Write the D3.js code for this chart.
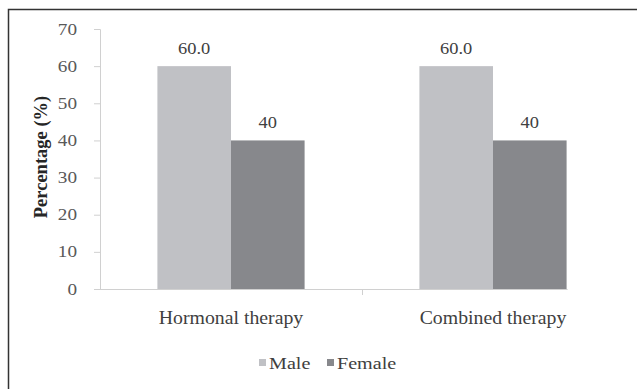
<!DOCTYPE html>
<html lang="en">
    <head>
        <meta charset="utf-8">
        <title>Percentage by therapy and sex</title>
        <script src="https://d3js.org/d3.v7.min.js"></script>
        <style type="text/css">
          body { margin: 0; background: #fff; }
          svg { width: 637px; height: 389px; display: block; }
          text { font-family: "Liberation Serif", "Times New Roman", serif; fill: #404040; }
          .tick text { fill: #595959; }
          .ytitle { font-weight: bold; fill: #262626; }
        </style>
    </head>
    <body>
        <svg></svg>
        <script type="text/javascript">

        // values
        const categories = ["Hormonal therapy", "Combined therapy"];
        const seriesNames = ["Male", "Female"];
        const maleValues = [60.0, 60.0];
        const femaleValues = [40, 40];
        const valueLabels = [["60.0", "40"], ["60.0", "40"]];
        const yTicks = [0, 10, 20, 30, 40, 50, 60, 70];

        const colors = {Male: "#c0c1c5", Female: "#87888c"};
        const stretch = 1.18; // the lettering in the picture is a bit wide

        const svg = d3.select("svg");

        // outer frame (only top and left visible)
        svg.append("rect")
           .attr("x", 8.5).attr("y", 9.5)
           .attr("width", 700).attr("height", 500)
           .attr("fill", "none")
           .attr("stroke", "#333").attr("stroke-width", 1.5);

        const plotLeft = 100, plotRight = 624, plotTop = 29, plotBottom = 289;

        const y = d3.scaleLinear().domain([0, 70]).range([plotBottom, plotTop]);
        const x = d3.scaleBand().domain(categories).range([plotLeft, plotRight]).padding(0);
        const xSub = d3.scaleBand().domain(seriesNames).range([0, x.bandwidth()])
                       .paddingInner(0).paddingOuter(0.78);

        // y axis
        const yAxis = svg.append("g")
           .attr("transform", "translate(" + plotLeft + ",0)")
           .call(d3.axisLeft(y).tickValues(yTicks).tickSize(6).tickPadding(17));
        yAxis.select(".domain").attr("stroke", "#d0d0d0");
        yAxis.selectAll(".tick line").attr("stroke", "#d0d0d0");
        yAxis.selectAll(".tick text")
             .attr("font-size", 16)
             .attr("text-anchor", "end")
             .attr("transform", function() {
                const tx = +d3.select(this).attr("x");
                d3.select(this).attr("x", 0);
                return "translate(" + tx + ",0) scale(1.2,1)";
             });

        const data = categories.map((c, i) => ({
            cat: c,
            vals: [
              {s: "Male", v: maleValues[i], label: valueLabels[i][0]},
              {s: "Female", v: femaleValues[i], label: valueLabels[i][1]}
            ]
        }));

        const groups = svg.selectAll("g.cat")
           .data(data)
           .enter()
           .append("g")
           .attr("class", "cat")
           .attr("transform", d => "translate(" + x(d.cat) + ",0)");

        groups.selectAll("rect")
           .data(d => d.vals)
           .enter()
           .append("rect")
           .attr("x", d => xSub(d.s))
           .attr("y", d => y(d.v))
           .attr("width", xSub.bandwidth())
           .attr("height", d => y(0) - y(d.v))
           .attr("fill", d => colors[d.s]);

        groups.selectAll("text.val")
           .data(d => d.vals)
           .enter()
           .append("text")
           .attr("class", "val")
           .attr("text-anchor", "middle")
           .attr("font-size", 16)
           .attr("transform", d => "translate(" + (xSub(d.s) + xSub.bandwidth() / 2) + "," + (y(d.v) - 12.5) + ") scale(1.15,1)")
           .text(d => d.label);

        // x axis: line from the y axis to the end of the last bar, tick between categories
        const lastEnd = x(categories[categories.length - 1]) + xSub(seriesNames[1]) + xSub.bandwidth();
        svg.append("line")
           .attr("x1", plotLeft - 6).attr("x2", lastEnd + 1)
           .attr("y1", y(0) + 0.5).attr("y2", y(0) + 0.5)
           .attr("stroke", "#d0d0d0");
        svg.append("line")
           .attr("x1", x(categories[1]) + 0.5).attr("x2", x(categories[1]) + 0.5)
           .attr("y1", y(0)).attr("y2", y(0) + 6)
           .attr("stroke", "#d0d0d0");

        svg.selectAll("text.catlabel")
           .data(categories)
           .enter()
           .append("text")
           .attr("class", "catlabel")
           .attr("text-anchor", "middle")
           .attr("font-size", 18.5)
           .attr("transform", d => "translate(" + (x(d) + x.bandwidth() / 2) + "," + (y(0) + 35) + ") scale(1.07,1)")
           .text(d => d);

        // y title
        svg.append("text")
           .attr("class", "ytitle")
           .attr("text-anchor", "middle")
           .attr("font-size", 18.5)
           .attr("transform", "translate(47,157) rotate(-90)")
           .text("Percentage (%)");

        // legend
        const legendX = [259, 327];
        const legend = svg.selectAll("g.legend")
           .data(seriesNames)
           .enter()
           .append("g")
           .attr("class", "legend")
           .attr("transform", (d, i) => "translate(" + legendX[i] + ",359)");
        legend.append("rect")
           .attr("width", 7).attr("height", 7)
           .attr("fill", d => colors[d]);
        legend.append("text")
           .attr("font-size", 16.5)
           .attr("transform", "translate(10,9.5) scale(1.22,1)")
           .text(d => d);

        </script>
    </body>
</html>
